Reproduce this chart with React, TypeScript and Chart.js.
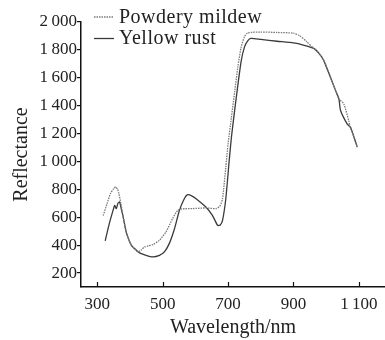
import React, { useEffect, useRef } from "react";
import { Chart, registerables } from "chart.js";

Chart.register(...registerables);

const seriesLabels = ["Powdery mildew", "Yellow rust"];

const pmWavelength = [
  318, 330, 340, 350, 356, 362, 366, 372, 378, 388, 396, 404, 414, 424, 434, 444, 456, 470, 490, 510,
  530, 546, 560, 591, 632, 663, 675, 683, 693, 700, 710, 720, 730, 740, 750, 760, 800, 850, 900, 920,
  940, 962, 980, 993, 1013, 1029, 1039, 1054, 1069, 1074, 1085, 1095,
];
const pmReflectance = [
  612, 700, 769, 805, 817, 800, 769, 700, 614, 497, 440, 399, 375, 352, 365, 387, 395, 404, 435, 495,
  590, 650, 660, 662, 667, 662, 680, 733, 960, 1128, 1313, 1497, 1681, 1820, 1895, 1922, 1928, 1925, 1920, 1900,
  1860, 1811, 1770, 1723, 1604, 1508, 1449, 1413, 1293, 1246, 1175, 1103,
];

const yrWavelength = [
  324, 335, 348, 353, 358, 363, 368, 373, 378, 388, 396, 404, 414, 424, 429, 449, 470, 490, 505, 520,
  536, 551, 566, 576, 590, 602, 632, 652, 668, 676, 683, 693, 703, 710, 720, 730, 740, 750, 760, 770,
  800, 850, 900, 930, 962, 980, 993, 1013, 1029, 1039, 1044, 1064, 1074, 1085, 1095,
];
const yrReflectance = [
  430, 540, 649, 685, 662, 700, 710, 662, 614, 497, 440, 399, 375, 352, 345, 327, 316, 327, 352, 411,
  518, 649, 733, 762, 752, 733, 674, 614, 542, 545, 578, 733, 996, 1170, 1365, 1550, 1720, 1820, 1865, 1882,
  1875, 1862, 1850, 1835, 1811, 1770, 1723, 1604, 1508, 1449, 1365, 1270, 1246, 1175, 1103,
];

const xTicks = [300, 500, 700, 900, 1100];
const yTicks = [200, 400, 600, 800, 1000, 1200, 1400, 1600, 1800, 2000];

const fmt = (v: number) =>
  v >= 1000 ? `${Math.floor(v / 1000)}\u2009${String(v % 1000).padStart(3, "0")}` : String(v);

const serif = "'Liberation Serif', 'Times New Roman', serif";

const customPlugin = {
  id: "customDecor",
  afterDraw(chart: any) {
    const { ctx, chartArea, scales } = chart;
    ctx.save();
    // inward x ticks
    ctx.strokeStyle = "#111";
    ctx.lineWidth = 1.2;
    xTicks.forEach((v) => {
      const x = Math.round(scales.x.getPixelForValue(v)) + 0.5;
      ctx.beginPath();
      ctx.moveTo(x, chartArea.bottom);
      ctx.lineTo(x, chartArea.bottom - 5);
      ctx.stroke();
    });
    // legend
    ctx.font = `20px ${serif}`;
    ctx.textBaseline = "alphabetic";
    ctx.textAlign = "left";
    try {
      (ctx as any).letterSpacing = "0.5px";
    } catch (e) {}
    chart.data.datasets.forEach((ds: any, i: number) => {
      const ly = chartArea.top - 5 + i * 21.5;
      ctx.strokeStyle = ds.borderColor;
      ctx.lineWidth = 1.3;
      ctx.setLineDash(ds.borderDash || []);
      ctx.beginPath();
      ctx.moveTo(chartArea.left + 13, ly);
      ctx.lineTo(chartArea.left + 33, ly);
      ctx.stroke();
      ctx.setLineDash([]);
      ctx.fillStyle = "#222";
      ctx.fillText(ds.label, chartArea.left + 38, chartArea.top + 1 + i * 20.7);
    });
    ctx.restore();
  },
};

export default function App() {
  const ref = useRef<HTMLCanvasElement | null>(null);
  useEffect(() => {
    if (!ref.current) return;
    const chart = new Chart(ref.current, {
      type: "line",
      data: {
        datasets: [
          {
            label: seriesLabels[0],
            data: pmWavelength.map((x, i) => ({ x, y: pmReflectance[i] })),
            borderColor: "#7a7a7a",
            borderWidth: 1.3,
            borderDash: [1.5, 1],
            pointRadius: 0,
            tension: 0.2,
            fill: false,
          },
          {
            label: seriesLabels[1],
            data: yrWavelength.map((x, i) => ({ x, y: yrReflectance[i] })),
            borderColor: "#3a3a3a",
            borderWidth: 1.3,
            pointRadius: 0,
            tension: 0.2,
            fill: false,
          },
        ],
      },
      options: {
        animation: false,
        responsive: false,
        devicePixelRatio: 1,
        layout: { padding: { top: 22, right: 0, left: 0, bottom: 0 } },
        plugins: { legend: { display: false }, tooltip: { enabled: false } },
        scales: {
          x: {
            type: "linear",
            min: 250,
            max: 1180,
            afterBuildTicks: (scale: any) => {
              scale.ticks = xTicks.map((v) => ({ value: v }));
            },
            afterFit: (scale: any) => {
              scale.height = 53;
            },
            grid: { display: false },
            border: { display: true, color: "#111", width: 1.5 },
            ticks: {
              autoSkip: false,
              maxRotation: 0,
              padding: -1,
              color: "#222",
              font: { family: serif, size: 17 },
              callback: (v: any) => fmt(Number(v)),
            },
            title: {
              display: true,
              text: "Wavelength/nm",
              color: "#222",
              font: { family: serif, size: 20 },
              padding: { top: 1.4, bottom: 0 },
            },
          },
          y: {
            type: "linear",
            min: 100,
            max: 2000,
            afterBuildTicks: (scale: any) => {
              scale.ticks = yTicks.map((v) => ({ value: v }));
            },
            afterFit: (scale: any) => {
              scale.width = 81;
            },
            grid: {
              display: true,
              drawOnChartArea: false,
              drawTicks: true,
              tickLength: 4,
              color: "#111",
              lineWidth: 1.2,
            },
            border: { display: true, color: "#111", width: 1.5 },
            ticks: {
              padding: 0,
              color: "#222",
              font: { family: serif, size: 17 },
              callback: (v: any) => fmt(Number(v)),
            },
            title: {
              display: true,
              text: "Reflectance",
              color: "#222",
              font: { family: serif, size: 20 },
              padding: { top: 9.6, bottom: 0 },
            },
          },
        },
      },
      plugins: [customPlugin],
    });
    return () => chart.destroy();
  }, []);
  return (
    <div style={{ position: "absolute", left: 0, top: 0, width: 385, height: 340, background: "#fff" }}>
      <canvas ref={ref} width={385} height={340} style={{ display: "block", width: 385, height: 340 }} />
    </div>
  );
}
